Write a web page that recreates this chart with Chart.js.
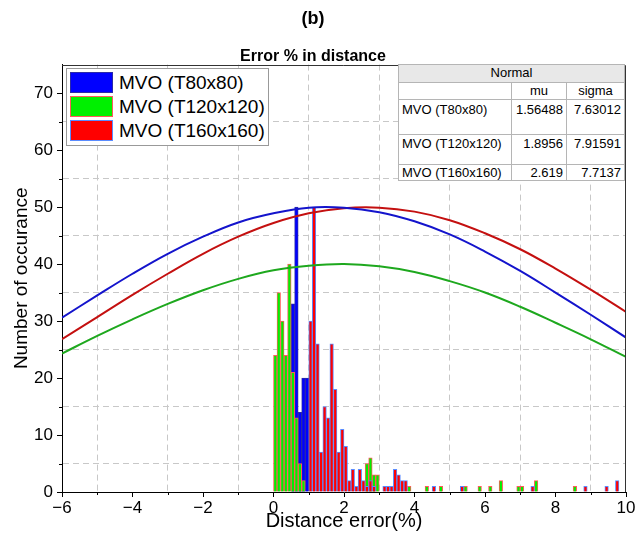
<!DOCTYPE html>
<html>
<head>
<meta charset="utf-8">
<script src="https://cdn.jsdelivr.net/npm/chart.js@4.4.1/dist/chart.umd.min.js"></script>
<style>
    body { margin: 0; background: #fff; }
    #wrap { position: relative; width: 641px; height: 543px; font-family: "Liberation Sans", Arial, sans-serif; color: #000; }
    #legend { position: absolute; left: 66px; top: 68px; width: 201px; height: 76px; border: 1px solid #999; background: #fff; }
    #legend .row { position: absolute; left: 3px; height: 21px; font-size: 19px; line-height: 21px; white-space: nowrap; }
    #legend .sw { box-sizing: border-box; display: inline-block; width: 43px; height: 21px; vertical-align: top; margin-right: 6px; border: 1px solid; }
    #stats { position: absolute; left: 398px; top: 64px; border-collapse: collapse; table-layout: fixed; width: 226px; font-size: 13px; background: #fff; border: 1px solid #777; }
    #stats td { border: 1px solid #b5b5b5; padding: 0 3px; line-height: 15px; vertical-align: top; white-space: nowrap; overflow: hidden; }
    #stats .num { text-align: right; }
    #stats .head td { background: #e8e8e8; text-align: center; height: 17px; }
    #stats .sub td { text-align: center; height: 16px; }
</style>
</head>
<body>
<div id="wrap">
    <canvas id="histChart" width="641" height="543"></canvas>
    <div id="legend"></div>
    <table id="stats">
        <colgroup><col style="width:113px"><col style="width:55px"><col style="width:58px"></colgroup>
        <tr class="head"><td colspan="3">Normal</td></tr>
        <tr class="sub"><td></td><td>mu</td><td>sigma</td></tr>
    </table>
</div>
<script>
// series names and fitted normal parameters (as printed in the table)
const seriesNames = ['MVO (T80x80)', 'MVO (T120x120)', 'MVO (T160x160)'];
const fitMu = ['1.56488', '1.8956', '2.619'];
const fitSigma = ['7.63012', '7.91591', '7.7137'];

// histogram bins (bin start, width 0.1) and counts
const binWidth = 0.1;
const blueBins = [0.5, 0.6, 0.7, 0.8, 0.9];
const blueCounts = [33, 50, 14, 20, 20];
const greenBins = [0.0, 0.1, 0.2, 0.3, 0.4, 0.5, 0.6, 0.7, 0.8, 2.6, 2.7, 2.8, 2.9, 3.8, 4.3, 4.7, 5.4, 5.8, 6.1, 6.4, 6.9, 7.0, 7.4, 8.5];
const greenCounts = [24, 35, 30, 24, 40, 21, 13, 5, 2, 5, 6, 3, 3, 1, 1, 1, 1, 1, 1, 2, 1, 1, 2, 1];
const redBins = [1.0, 1.1, 1.2, 1.3, 1.4, 1.5, 1.6, 1.7, 1.8, 1.9, 2.0, 2.1, 2.2, 2.3, 2.4, 2.5, 2.6, 2.7, 2.8,
                 3.1, 3.2, 3.3, 3.4, 3.5, 3.6, 3.7, 4.5, 5.3, 7.3, 8.8, 9.4, 9.7];
const redCounts = [30, 50, 26, 7, 15, 13, 26, 18, 7, 11, 8, 2, 4, 1, 4, 2, 1, 2, 1,
                   1, 1, 1, 4, 3, 2, 2, 1, 1, 1, 1, 1, 2];

// fitted curves, sampled at whole x values
const curveX = [-6, -5, -4, -3, -2, -1, 0, 1, 2, 3, 4, 5, 6, 7, 8, 9, 10];
const blueCurve = [30.6, 34.5, 38.3, 41.8, 44.8, 47.3, 48.9, 49.9, 49.9, 49.1, 47.5, 45.2, 42.2, 38.8, 35.0, 31.1, 27.1];
const greenCurve = [24.3, 27.4, 30.3, 33.0, 35.4, 37.4, 38.9, 39.7, 40.0, 39.6, 38.6, 37.0, 35.0, 32.5, 29.7, 26.8, 23.7];
const redCurve = [26.8, 30.7, 34.6, 38.3, 41.8, 44.8, 47.2, 48.9, 49.8, 49.9, 49.2, 47.7, 45.4, 42.6, 39.2, 35.5, 31.6];

// axis tick labels
const xTickLabels = [-6, -4, -2, 0, 2, 4, 6, 8, 10];
const yTickLabels = [0, 10, 20, 30, 40, 50, 60, 70];

const FONT = '"Liberation Sans", Arial, sans-serif';
const fills = ['#0000ff', '#00f000', '#ff0000'];
const edges = ['#2a2aa8', '#ff5a5a', '#5a8cff'];
const lineColors = ['#1414cc', '#1ea81e', '#c41010'];

// legend + table built from the arrays above
const legendBox = document.getElementById('legend');
seriesNames.forEach((name, i) => {
    const row = document.createElement('div');
    row.className = 'row';
    row.style.top = (3 + i * 24) + 'px';
    row.innerHTML = '<span class="sw" style="background:' + fills[i] + ';border-color:' + edges[i] + '"></span>' + name;
    legendBox.appendChild(row);
});
const statsTable = document.getElementById('stats');
const rowHeights = [34, 29, 14];
const rowPads = [2, 1, 0];
seriesNames.forEach((name, i) => {
    const tr = document.createElement('tr');
    tr.innerHTML = '<td>' + name + '</td><td class="num">' + fitMu[i] + '</td><td class="num">' + fitSigma[i] + '</td>';
    tr.querySelectorAll('td').forEach(td => {
        td.style.height = (rowHeights[i] - rowPads[i]) + 'px';
        td.style.paddingTop = rowPads[i] + 'px';
    });
    statsTable.appendChild(tr);
});

function barSet(label, bins, counts, i, order) {
    return {
        type: 'bar',
        label: label,
        data: bins.map((b, k) => ({ x: b + binWidth / 2, y: counts[k] })),
        backgroundColor: fills[i],
        borderColor: edges[i],
        borderWidth: 1,
        barPercentage: 1,
        categoryPercentage: 1,
        grouped: false,
        order: order
    };
}

function curveSet(label, ys, i) {
    return {
        type: 'line',
        label: label,
        data: curveX.map((x, k) => ({ x: x, y: ys[k] })),
        borderColor: lineColors[i],
        borderWidth: 2,
        pointRadius: 0,
        tension: 0.4,
        fill: false,
        order: 0
    };
}

const isMajorX = v => xTickLabels.includes(v);
const isMajorY = v => yTickLabels.includes(v);

// top/right frame of the plot box + short minor ticks
const framePlugin = {
    id: 'frame',
    afterDatasetsDraw(chart) {
        const { ctx, chartArea: a } = chart;
        const xs = chart.scales.x, ys = chart.scales.y;
        ctx.save();
        ctx.strokeStyle = '#333';
        ctx.lineWidth = 1;
        ctx.beginPath();
        ctx.moveTo(a.left, Math.round(a.top) + 0.5);
        ctx.lineTo(Math.round(a.right) - 0.5, Math.round(a.top) + 0.5);
        ctx.lineTo(Math.round(a.right) - 0.5, a.bottom);
        ctx.stroke();

        ctx.strokeStyle = '#000';
        ctx.beginPath();
        xs.ticks.forEach(t => {
            if (isMajorX(t.value)) return;
            const px = Math.round(xs.getPixelForValue(t.value)) + 0.5;
            ctx.moveTo(px, a.bottom);
            ctx.lineTo(px, a.bottom + 3);
        });
        ys.ticks.forEach(t => {
            if (isMajorY(t.value) || t.value >= 75) return;
            const py = Math.round(ys.getPixelForValue(t.value)) + 0.5;
            ctx.moveTo(a.left, py);
            ctx.lineTo(a.left - 3, py);
        });
        ctx.stroke();
        ctx.restore();
    }
};

const fmt = v => String(v).replace('-', '\u2212');

new Chart(document.getElementById('histChart'), {
    type: 'bar',
    data: {
        datasets: [
            curveSet(seriesNames[0], blueCurve, 0),
            curveSet(seriesNames[2], redCurve, 2),
            curveSet(seriesNames[1], greenCurve, 1),
            barSet(seriesNames[2], redBins, redCounts, 2, 1),
            barSet(seriesNames[1], greenBins, greenCounts, 1, 2),
            barSet(seriesNames[0], blueBins, blueCounts, 0, 3)
        ]
    },
    options: {
        responsive: false,
        animation: false,
        layout: { padding: { left: 0, right: 15, top: 0, bottom: 0 } },
        plugins: {
            legend: { display: false },
            tooltip: { enabled: false },
            title: {
                display: true,
                text: '(b)',
                color: '#000',
                font: { family: FONT, size: 18, weight: 'bold' },
                padding: { top: 8, bottom: 19 }
            },
            subtitle: {
                display: true,
                text: 'Error % in distance',
                color: '#000',
                font: { family: FONT, size: 16, weight: 'bold', lineHeight: 1.0 },
                padding: { top: 0, bottom: 0 }
            }
        },
        scales: {
            x: {
                type: 'linear',
                min: -6,
                max: 10,
                offset: false,
                afterFit: s => { s.height = 51; },
                grid: {
                    offset: false,
                    color: c => (Math.abs(c.tick.value % 2) === 1 ? '#c8c8c8' : 'rgba(0,0,0,0)'),
                    tickColor: c => (isMajorX(c.tick.value) ? '#000' : 'rgba(0,0,0,0)'),
                    tickLength: 5,
                    lineWidth: 1
                },
                border: { display: true, color: '#000', width: 1, dash: [6, 4] },
                ticks: {
                    stepSize: 1,
                    autoSkip: false,
                    maxRotation: 0,
                    padding: 1,
                    color: '#000',
                    font: { family: FONT, size: 17 },
                    callback: v => (isMajorX(v) ? fmt(v) : '')
                },
                title: {
                    display: true,
                    text: 'Distance error(%)',
                    color: '#000',
                    font: { family: FONT, size: 20 },
                    padding: { top: 0, bottom: 10 }
                }
            },
            y: {
                min: 0,
                max: 75,
                afterFit: s => { s.width = 62; },
                grid: {
                    color: c => (c.tick.value % 10 === 5 && c.tick.value < 75 ? '#c8c8c8' : 'rgba(0,0,0,0)'),
                    tickColor: c => (isMajorY(c.tick.value) ? '#000' : 'rgba(0,0,0,0)'),
                    tickLength: 5,
                    lineWidth: 1
                },
                border: { display: true, color: '#000', width: 1, dash: [6, 4] },
                ticks: {
                    stepSize: 5,
                    padding: 4,
                    color: '#000',
                    font: { family: FONT, size: 17 },
                    callback: v => (isMajorY(v) ? String(v) : '')
                },
                title: {
                    display: true,
                    text: 'Number of occurance',
                    color: '#000',
                    font: { family: FONT, size: 19 },
                    padding: { top: 10, bottom: 0 }
                }
            }
        }
    },
    plugins: [framePlugin]
});
</script>
</body>
</html>
